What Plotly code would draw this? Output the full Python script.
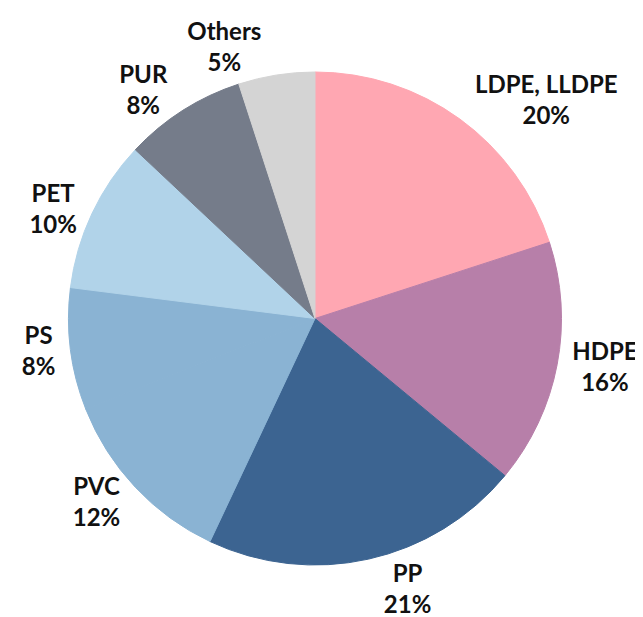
import plotly.graph_objects as go

labels = ["LDPE, LLDPE", "HDPE", "PP", "PVC", "PS", "PET", "PUR", "Others"]
values = [20, 16, 21, 12, 8, 10, 8, 5]
colors = ["#FFA7B2", "#B77FA9", "#3C6491", "#8AB3D3", "#8AB3D3", "#B1D3E9", "#757C8A", "#D4D4D4"]

n = len(labels)
pos_main = ["outside"] * (n - 1) + ["none"]
pos_extra = ["none"] * (n - 1) + ["outside"]
font = dict(family="Lato", size=24, color="#111111")
dom = dict(x=[0, 1], y=[0, 1])

fig = go.Figure()
fig.add_trace(go.Pie(
    labels=labels, values=values, sort=False, direction="clockwise", rotation=0,
    marker=dict(colors=colors, line=dict(width=1, color=colors)),
    texttemplate="<b>%{label}</b><br><b>%{value}%</b>",
    textposition=pos_main, textfont=font, hoverinfo="label+value", domain=dom,
))
fig.add_trace(go.Pie(
    labels=labels, values=values, sort=False, direction="clockwise", rotation=0,
    marker=dict(colors=["rgba(0,0,0,0)"] * n, line=dict(width=0)),
    texttemplate="<b>%{label}</b><br><b>%{value}%</b>",
    textposition=pos_extra, textfont=font, hoverinfo="skip", domain=dom,
))
fig.update_layout(
    width=643, height=617,
    showlegend=False,
    margin=dict(l=0, r=0, t=0, b=0),
    paper_bgcolor="white",
    plot_bgcolor="white",
)
fig.write_html("out.html")
